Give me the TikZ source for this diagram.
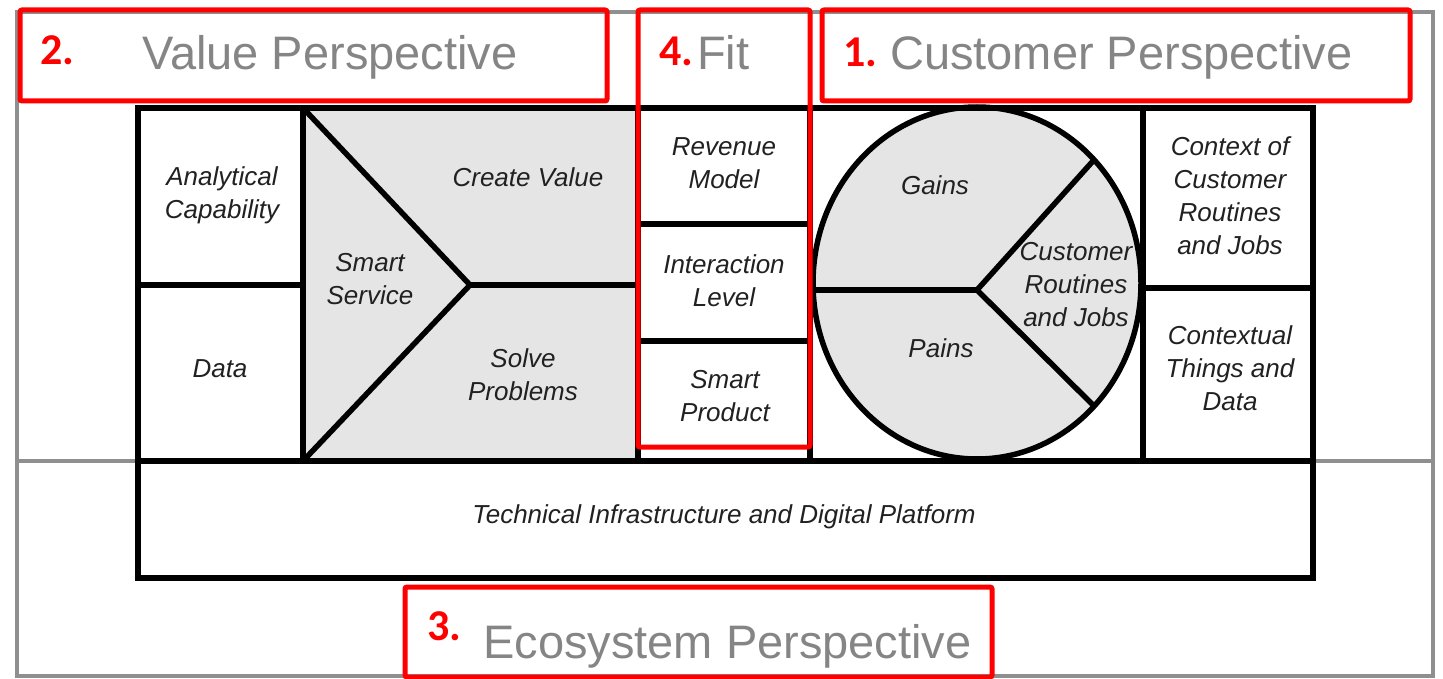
\documentclass[tikz,border=0pt]{standalone}
\usepackage{fontspec}
\setmainfont{Liberation Sans}
\newfontfamily\numfont{Carlito}
\usepackage{tikz}
\usetikzlibrary{
  positioning,
  calc
}
\usepackage{xcolor}
\definecolor{lightGrey}{rgb}{0.90,0.90,0.90}
\definecolor{frameGrey}{rgb}{0.56,0.56,0.56}
\definecolor{headGrey}{rgb}{0.52,0.52,0.52}
\definecolor{inkGrey}{rgb}{0.13,0.13,0.13}
\definecolor{markRed}{rgb}{1,0,0}
\tikzset{
  field/.style={
    font=\fontsize{26}{33}\selectfont\itshape,
    text=inkGrey,
    align=center,
    inner sep=0pt
  },
  heading/.style={
    font=\fontsize{47}{50}\selectfont,
    text=headGrey,
    inner sep=0pt,
    anchor=base west
  },
  number/.style={
    font=\fontsize{44}{46}\numfont\bfseries,
    text=markRed,
    inner sep=0pt,
    anchor=base west
  }
}

\begin{document}
\begin{tikzpicture}[
      x=1pt, y=-1pt,
      wall/.style={line width=5.5pt, draw=black},
      frame/.style={line width=4pt, draw=frameGrey},
      redbox/.style={line width=5pt, draw=markRed, rounded corners=2pt}
      ]
      \useasboundingbox (0,0) rectangle (1443,679);

      % grey perspective frame
      \draw[frame] (17,12) rectangle (1433,676);
      \draw[frame] (17,461) -- (1433,461);

      % shaded areas
      \fill[lightGrey] (303,108) rectangle (638,461);
      \fill[lightGrey] (977,283) ellipse [x radius=164pt, y radius=176pt];

      % canvas walls
      \draw[wall] (138,108) rectangle (1313,578);
      \draw[wall] (138,461) -- (1313,461);
      \foreach \x in {303, 638, 810, 1143}{
        \draw[wall] (\x,108) -- (\x,461);
      }
      \draw[wall] (138,285) -- (303,285);
      \draw[wall] (1143,288) -- (1313,288);
      \foreach \y in {224, 341}{
        \draw[wall] (638,\y) -- (810,\y);
      }
      \draw[wall] (303,108) -- (470,285) -- (303,461);
      \draw[wall] (470,285) -- (638,285);

      % customer profile
      \coordinate (hub) at (977,290);
      \draw[wall] (977,283) ellipse [x radius=164pt, y radius=176pt];
      \draw[wall] (hub) -- (813,290);
      \draw[wall] (hub) -- (1093,161);
      \draw[wall] (hub) -- (1093,405);

      \node[field] (analytic) at (222,195) {Analytical\\Capability};
      \node[field] (data) at (220,369) {Data};
      \node[field] (service) at (370,279) {Smart\\Service};
      \node[field] (create) at (528,177) {Create Value};
      \node[field] (solve) at (523,375) {Solve\\Problems};
      \node[field] (revenue) at (724,163) {Revenue\\Model};
      \node[field] (interact) at (724,281) {Interaction\\Level};
      \node[field] (product) at (725,396) {Smart\\Product};
      \node[field] (gains) at (935,185) {Gains};
      \node[field] (pains) at (941,348) {Pains};
      \node[field] (routines) at (1076,285) {Customer\\Routines\\and Jobs};
      \node[field] (context) at (1230,196) {Context of\\Customer\\Routines\\and Jobs};
      \node[field] (things) at (1230,368) {Contextual\\Things and\\Data};
      \node[field] (infra) at (724,517) {Technical Infrastructure and Digital Platform};

      % perspectives
      \draw[redbox] (20,10) rectangle (607,101);
      \draw[redbox] (638,10) rectangle (810,447);
      \draw[redbox] (822,10) rectangle (1410,101);
      \draw[redbox] (405,587) rectangle (992,677);

      \node[number] (valueNum) at (40,65) {2.};
      \node[heading] (valueHead) at (142,70) {Value Perspective};
      \node[number] (fitNum) at (659,66) {4.};
      \node[heading] (fitHead) at (697,70) {Fit};
      \node[number] (customerNum) at (843,67) {1.};
      \node[heading] (customerHead) at (890,70) {Customer Perspective};
      \node[number] (ecoNum) at (427,640) {3.};
      \node[heading] (ecoHead) at (483,658) {Ecosystem Perspective};
    \end{tikzpicture}
\end{document}
